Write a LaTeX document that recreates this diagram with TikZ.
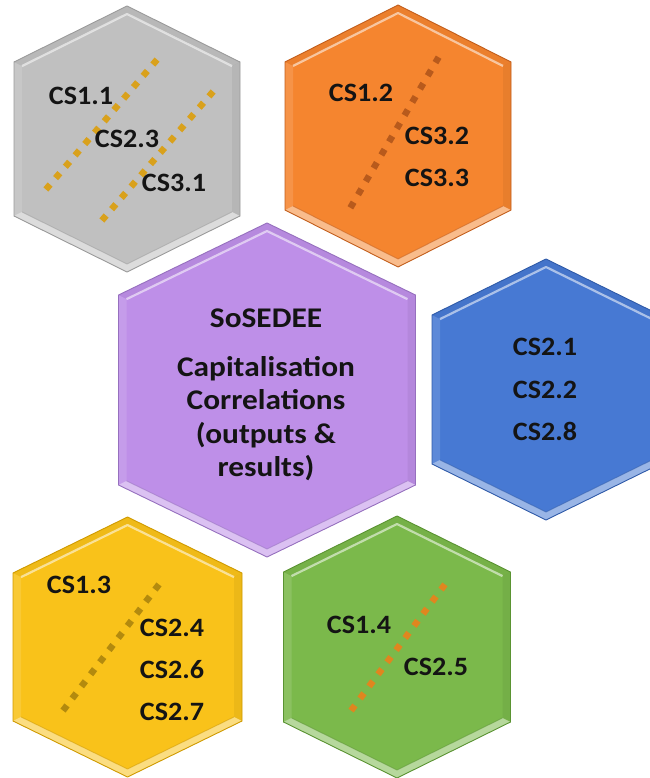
\documentclass[tikz,border=0pt]{standalone}
\usepackage{fontspec}
\setmainfont{Carlito}
\newfontfamily\tilefont[FakeStretch=1.06]{Carlito}
\newfontfamily\centrefont[FakeStretch=1.1]{Carlito}
\begin{document}
\begin{tikzpicture}[x=1pt,y=-1pt,
  lab/.style={font=\tilefont\bfseries\fontsize{26.5}{30}\selectfont,text=black!92,inner sep=0pt,anchor=base},
  big/.style={font=\centrefont\bfseries\fontsize{28.5}{33}\selectfont,text=black!92,inner sep=0pt,anchor=base},
  dotline/.style={line width=6.5pt,dash pattern=on 6.5pt off #1pt,
    shorten <=-3.25pt,shorten >=-3.25pt}]
\useasboundingbox (0,0) rectangle (649,778);

% \tile{name}{cx}{cy}{half width}{half height}{corner drop}{face}{edge}
\newcommand\tile[8]{%
  \pgfmathsetmacro\tileW{#4-8}%
  \pgfmathsetmacro\tileH{#5-8}%
  \pgfmathsetmacro\tileK{#6*(#4-8)/#4}%
  \coordinate (#1) at (#2,#3);
  \coordinate (#1-t)  at (#2,#3-#5);
  \coordinate (#1-ur) at (#2+#4,#3-#5+#6);
  \coordinate (#1-lr) at (#2+#4,#3+#5-#6);
  \coordinate (#1-b)  at (#2,#3+#5);
  \coordinate (#1-ll) at (#2-#4,#3+#5-#6);
  \coordinate (#1-ul) at (#2-#4,#3-#5+#6);
  \coordinate (#1-it)  at (#2,#3-\tileH);
  \coordinate (#1-iur) at (#2+\tileW,#3-\tileH+\tileK);
  \coordinate (#1-ilr) at (#2+\tileW,#3+\tileH-\tileK);
  \coordinate (#1-ib)  at (#2,#3+\tileH);
  \coordinate (#1-ill) at (#2-\tileW,#3+\tileH-\tileK);
  \coordinate (#1-iul) at (#2-\tileW,#3-\tileH+\tileK);
  % face
  \fill[#7] (#1-t) -- (#1-ur) -- (#1-lr) -- (#1-b) -- (#1-ll) -- (#1-ul) -- cycle;
  % bevel bands
  \fill[white,opacity=.45] (#1-ll) -- (#1-b) -- (#1-lr) -- (#1-ilr) -- (#1-ib) -- (#1-ill) -- cycle;
  \fill[white,opacity=.12] (#1-ul) -- (#1-ll) -- (#1-ill) -- (#1-iul) -- cycle;
  \fill[black,opacity=.05] (#1-ur) -- (#1-lr) -- (#1-ilr) -- (#1-iur) -- cycle;
  \fill[black,opacity=.04] (#1-ul) -- (#1-t) -- (#1-ur) -- (#1-iur) -- (#1-it) -- (#1-iul) -- cycle;
  \draw[white,opacity=.55,line width=2.2pt,line join=round] (#1-iul) -- (#1-it) -- (#1-iur);
  \draw[#8,opacity=.55,line width=.9pt,line join=round] (#1-ill) -- (#1-ib) -- (#1-ilr);
  % outline
  \draw[#8,line width=.9pt,line join=round] (#1-t) -- (#1-ur) -- (#1-lr) -- (#1-b) -- (#1-ll) -- (#1-ul) -- cycle;
}

\definecolor{greyface}{HTML}{C0C0C0}\definecolor{greyedge}{HTML}{9A9A9A}
\definecolor{orangeface}{HTML}{F5852F}\definecolor{orangeedge}{HTML}{C25E1C}
\definecolor{purpleface}{HTML}{BE8FE8}\definecolor{purpleedge}{HTML}{9670BE}
\definecolor{blueface}{HTML}{4779D3}\definecolor{blueedge}{HTML}{2F5AA8}
\definecolor{yellowface}{HTML}{F9C21A}\definecolor{yellowedge}{HTML}{CF9A00}
\definecolor{greenface}{HTML}{7BB94B}\definecolor{greenedge}{HTML}{5A9332}
\definecolor{dotgold}{HTML}{D9A11C}
\definecolor{dotbrown}{HTML}{B85A1C}
\definecolor{dotdark}{HTML}{B38A0E}
\definecolor{dotorange}{HTML}{E0861F}

\tile{grey}{127}{139}{113}{133}{56}{greyface}{greyedge}
\tile{orange}{398}{136}{113}{131}{57}{orangeface}{orangeedge}
\tile{purple}{267}{390}{148.5}{167}{72}{purpleface}{purpleedge}
\tile{blue}{546}{389.5}{114}{130.5}{56}{blueface}{blueedge}
\tile{yellow}{127.5}{647}{114.5}{130}{56}{yellowface}{yellowedge}
\tile{green}{397}{647}{113.5}{131}{56}{greenface}{greenedge}

% dotted separators (end points are the centres of the end dots)
\coordinate (g1a) at (48,187);  \coordinate (g1b) at (155,62);
\coordinate (g2a) at (104,218); \coordinate (g2b) at (211,94);
\coordinate (o1a) at (352,205); \coordinate (o1b) at (437,60);
\coordinate (y1a) at (65,708);  \coordinate (y1b) at (157,587);
\coordinate (n1a) at (353,708); \coordinate (n1b) at (443,587);
\draw[dotline=8.45,dotgold] (g1a) -- (g1b);
\draw[dotline=8.4,dotgold] (g2a) -- (g2b);
\draw[dotline=8.8,dotbrown] (o1a) -- (o1b);
\draw[dotline=8.7,dotdark] (y1a) -- (y1b);
\draw[dotline=8.58,dotorange] (n1a) -- (n1b);

% labels
\node[lab] (cs11) at (81,105) {CS1.1};
\node[lab] (cs23) at (127,148) {CS2.3};
\node[lab] (cs31) at (174,191) {CS3.1};

\node[lab] (cs12) at (361,102) {CS1.2};
\node[lab] (cs32) at (437,145) {CS3.2};
\node[lab] (cs33) at (437,186) {CS3.3};

\node[lab] (cs21) at (545,355) {CS2.1};
\node[lab] (cs22) at (545,398) {CS2.2};
\node[lab] (cs28) at (545,440) {CS2.8};

\node[lab] (cs13) at (79,593) {CS1.3};
\node[lab] (cs24) at (172,636) {CS2.4};
\node[lab] (cs26) at (172,678) {CS2.6};
\node[lab] (cs27) at (172,720) {CS2.7};

\node[lab] (cs14) at (359,633) {CS1.4};
\node[lab] (cs25) at (436,675) {CS2.5};

\node[big] (title) at (266,327) {SoSEDEE};
\node[big] (cap)   at (266,376) {Capitalisation};
\node[big] (corr)  at (266,409) {Correlations};
\node[big] (outp)  at (266,443) {(outputs \&};
\node[big] (res)   at (266,476) {results)};
\end{tikzpicture}
\end{document}
